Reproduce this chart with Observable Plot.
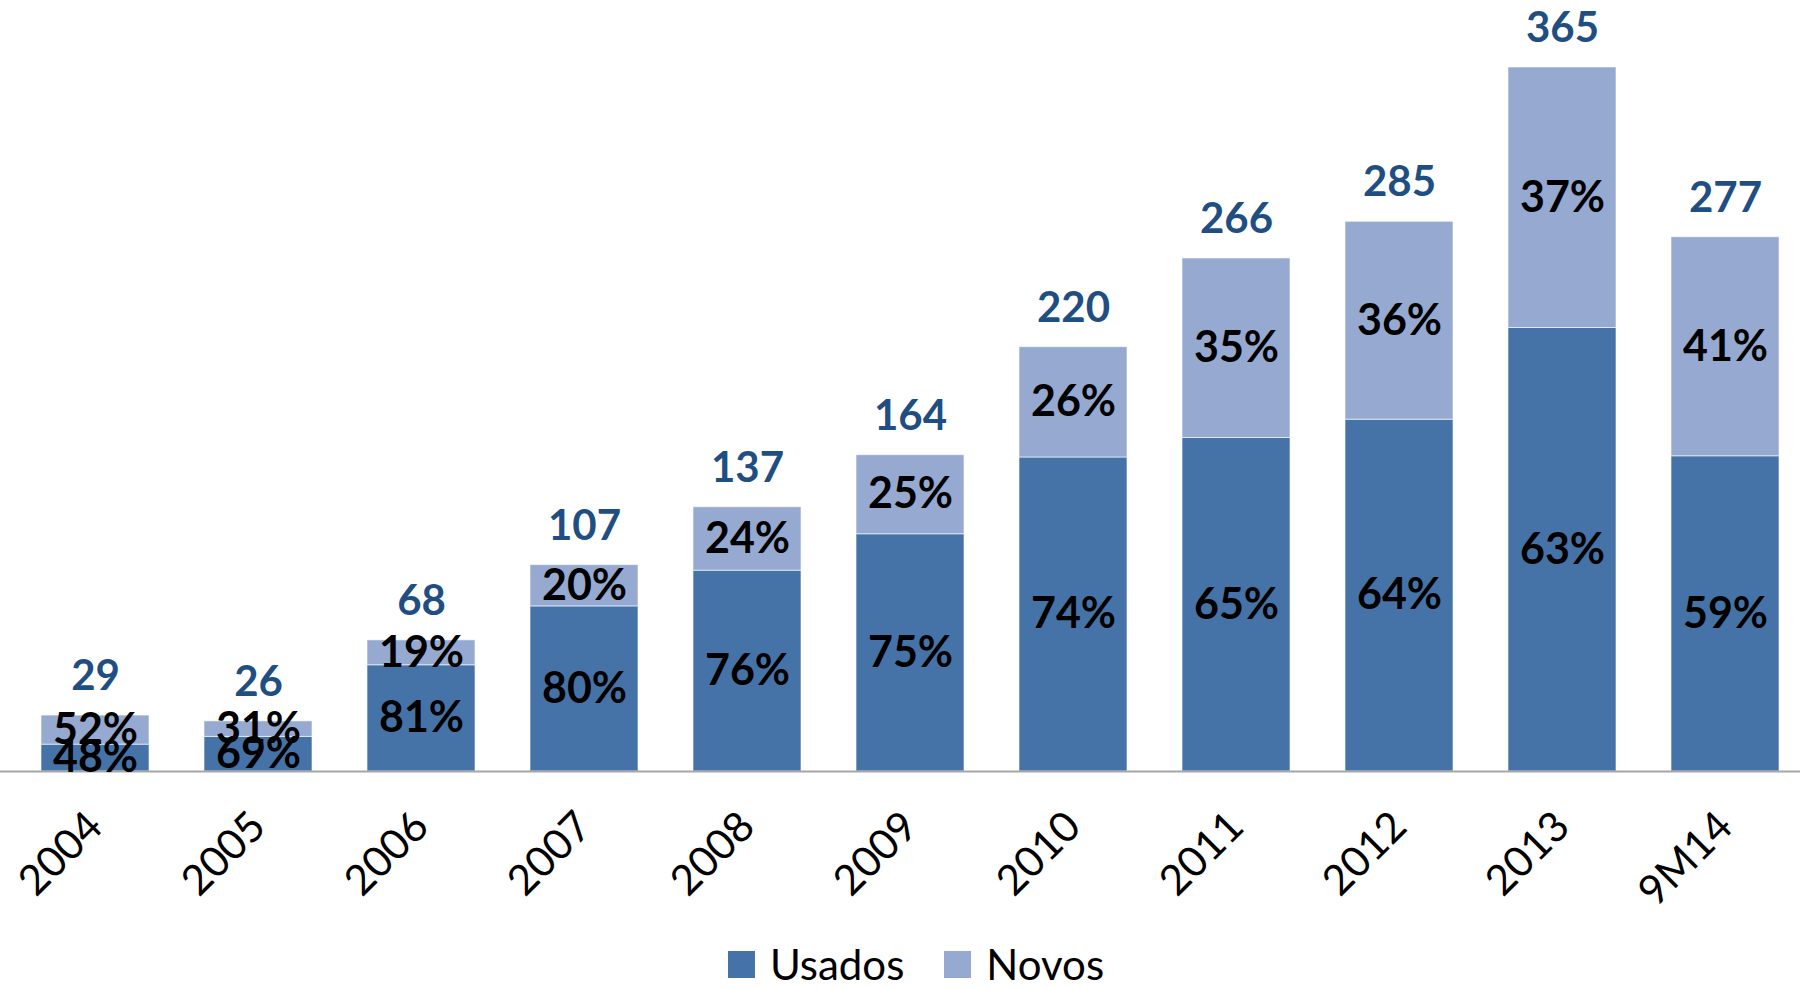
<!DOCTYPE html>
<html>
<head>
<meta charset="utf-8">
<script src="https://cdn.jsdelivr.net/npm/d3@7"></script>
<script src="https://cdn.jsdelivr.net/npm/@observablehq/plot@0.6"></script>
<style>
  html, body { margin: 0; padding: 0; background: #fff; overflow: hidden; }
  body { font-family: Lato, "Open Sans", sans-serif; width: 1800px; height: 990px; }
  #legend { display: flex; justify-content: center; align-items: center; height: 40px; margin-top: 14px; padding-left: 32px; font-size: 42px; line-height: 40px; color: #000; }
  .item { display: flex; align-items: center; }
  .sw { width: 27px; height: 27px; margin-right: 15px; }
  .item + .item { margin-left: 40px; }
</style>
</head>
<body>
<div id="chart"></div>
<div id="legend"></div>
<script>
const periods = ["2004", "2005", "2006", "2007", "2008", "2009", "2010", "2011", "2012", "2013", "9M14"];
const totals = [29, 26, 68, 107, 137, 164, 220, 266, 285, 365, 277];
const usadosPct = [48, 69, 81, 80, 76, 75, 74, 65, 64, 63, 59];
const novosPct = [52, 31, 19, 20, 24, 25, 26, 35, 36, 37, 41];
const seriesNames = ["Usados", "Novos"];
const seriesColors = ["#4673a7", "#95a9d1"];

const rows = [];
periods.forEach((p, i) => {
  const u = totals[i] * usadosPct[i] / 100;
  const n = totals[i] - u;
  rows.push({period: p, series: "Usados", value: u, pct: usadosPct[i], mid: u / 2});
  rows.push({period: p, series: "Novos", value: n, pct: novosPct[i], mid: u + n / 2});
});
const totalRows = periods.map((p, i) => ({period: p, total: totals[i]}));

const chart = Plot.plot({
  width: 1800,
  height: 930,
  marginLeft: 37,
  marginRight: 18,
  marginTop: 67,
  marginBottom: 159,
  style: {fontFamily: "Lato, 'Open Sans', sans-serif", fontSize: "42px", color: "#000", background: "#fff"},
  x: {domain: periods, paddingInner: 0.34, paddingOuter: 0, label: null},
  y: {domain: [0, 365], axis: null},
  color: {domain: seriesNames, range: seriesColors},
  marks: [
    Plot.barY(rows, {x: "period", y: "value", fill: "series", stroke: "#ffffff", strokeWidth: 1, strokeOpacity: 0.6}),
    Plot.ruleY([0], {stroke: "#a6a6a6", strokeWidth: 2, insetLeft: -37, insetRight: -18}),
    Plot.text(rows, {x: "period", y: "mid", text: d => d.pct + "%", fill: "#000", fontWeight: "bold", fontSize: 43}),
    Plot.text(totalRows, {x: "period", y: "total", text: d => String(d.total), dy: -39, fill: "#1f4e82", fontWeight: "bold", fontSize: 42}),
    Plot.axisX({tickSize: 0, tickPadding: 48, tickRotate: -45, fontSize: 42, fill: "#000", label: null})
  ]
});
document.getElementById("chart").appendChild(chart);

const legend = document.getElementById("legend");
seriesNames.forEach((name, i) => {
  const item = document.createElement("div");
  item.className = "item";
  const sw = document.createElement("div");
  sw.className = "sw";
  sw.style.background = seriesColors[i];
  const label = document.createElement("span");
  label.textContent = name;
  item.appendChild(sw);
  item.appendChild(label);
  legend.appendChild(item);
});
</script>
</body>
</html>
